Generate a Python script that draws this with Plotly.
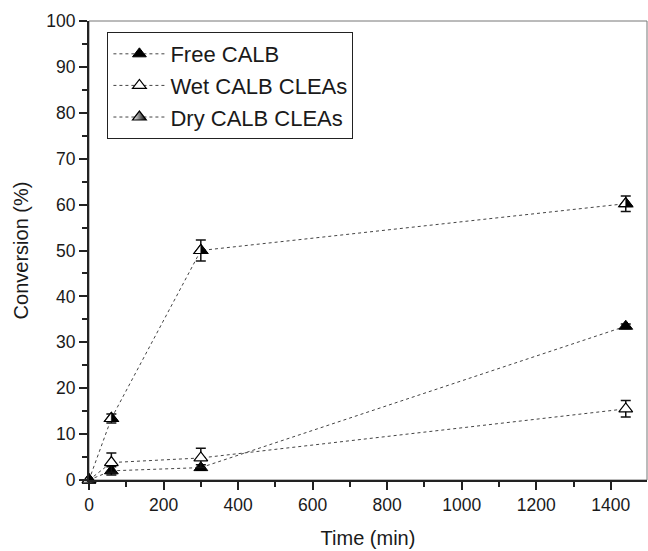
import plotly.graph_objects as go

time_min = [0, 60, 300, 1440]
free_calb = [0, 2.0, 2.7, 33.5]
free_err = [0, 0.9, 0.6, 0.5]
wet_cleas = [0, 3.8, 4.8, 15.5]
wet_err = [0, 2.1, 2.1, 1.8]
dry_cleas = [0, 13.4, 50.0, 60.2]
dry_err = [0, 1.0, 2.3, 1.7]
names = ["Free CALB", "Wet CALB CLEAs", "Dry CALB CLEAs"]

fig = go.Figure()
line_style = dict(color="#444444", width=1, dash="dot")
err_style = dict(type="data", thickness=1.5, width=5, color="#111111")
MSIZE = 12

fig.add_trace(go.Scatter(
    x=time_min, y=free_calb, name=names[0], mode="lines+markers",
    line=line_style,
    marker=dict(symbol="triangle-up", size=MSIZE, color="#000000", line=dict(color="#000000", width=1)),
    error_y=dict(array=free_err, **err_style), cliponaxis=False))

fig.add_trace(go.Scatter(
    x=time_min, y=wet_cleas, name=names[1], mode="lines+markers",
    line=line_style,
    marker=dict(symbol="triangle-up", size=MSIZE, color="#ffffff", line=dict(color="#000000", width=1.2)),
    error_y=dict(array=wet_err, **err_style), cliponaxis=False))

fig.add_trace(go.Scatter(
    x=time_min, y=dry_cleas, name=names[2], mode="lines+markers",
    line=line_style,
    marker=dict(symbol="triangle-up", size=MSIZE, color="#ffffff",
                gradient=dict(type="horizontal", color="#000000"),
                line=dict(color="#000000", width=1.2)),
    error_y=dict(array=dry_err, **err_style), cliponaxis=False))

# half-filled triangle overlay for the Dry CALB CLEAs markers (anchored at data points)
r = MSIZE / 2
rt = r * 2 / 3 ** 0.5
shapes = []
for xv, yv in zip(time_min, dry_cleas):
    common = dict(type="path", xref="x", yref="y", xsizemode="pixel", ysizemode="pixel",
                  xanchor=xv, yanchor=yv, layer="above")
    shapes.append(dict(path=f"M{-rt:.2f},{-r/2:.2f} L{rt:.2f},{-r/2:.2f} L0,{r:.2f} Z",
                       fillcolor="#ffffff", line=dict(color="#000000", width=1.2), **common))
    shapes.append(dict(path=f"M0,{-r/2:.2f} L{rt:.2f},{-r/2:.2f} L0,{r:.2f} Z",
                       fillcolor="#000000", line=dict(color="#000000", width=0.6), **common))

# thin frame on top/right
shapes.append(dict(type="rect", xref="paper", yref="paper", x0=0, x1=1, y0=0, y1=1,
                   line=dict(color="#777777", width=1), layer="below"))

font_family = "Liberation Sans, Arial, sans-serif"

fig.update_layout(
    width=648, height=551,
    margin=dict(l=89, r=1, t=21, b=71),
    paper_bgcolor="white", plot_bgcolor="white",
    font=dict(family=font_family, size=17.5, color="#1a1a1a"),
    showlegend=True,
    shapes=shapes,
    legend=dict(x=0.033, y=0.976, xanchor="left", yanchor="top",
                bordercolor="#222222", borderwidth=1, bgcolor="white",
                font=dict(size=22, family=font_family), tracegroupgap=0,
                itemwidth=52),
    xaxis=dict(range=[0, 1497], title=dict(text="Time (min)", font=dict(size=20), standoff=17),
               tickmode="array", tickvals=[0, 200, 400, 600, 800, 1000, 1200, 1400],
               ticks="outside", ticklen=8, tickwidth=1.5, tickcolor="#222222",
               minor=dict(tickvals=[100, 300, 500, 700, 900, 1100, 1300], ticks="outside", ticklen=5, tickwidth=1.5, tickcolor="#222222"),
               showline=True, linecolor="#222222", linewidth=2,
               showgrid=False, zeroline=False),
    yaxis=dict(range=[0, 100], title=dict(text="Conversion (%)", font=dict(size=20), standoff=12),
               tickmode="array", tickvals=[0, 10, 20, 30, 40, 50, 60, 70, 80, 90, 100],
               ticks="outside", ticklen=8, tickwidth=1.5, tickcolor="#222222",
               minor=dict(tickvals=[5, 15, 25, 35, 45, 55, 65, 75, 85, 95], ticks="outside", ticklen=5, tickwidth=1.5, tickcolor="#222222"),
               showline=True, linecolor="#222222", linewidth=2,
               showgrid=False, zeroline=False),
)

fig.write_html("out.html", config={"displayModeBar": False},
               post_script="document.body.style.margin='0px';")
